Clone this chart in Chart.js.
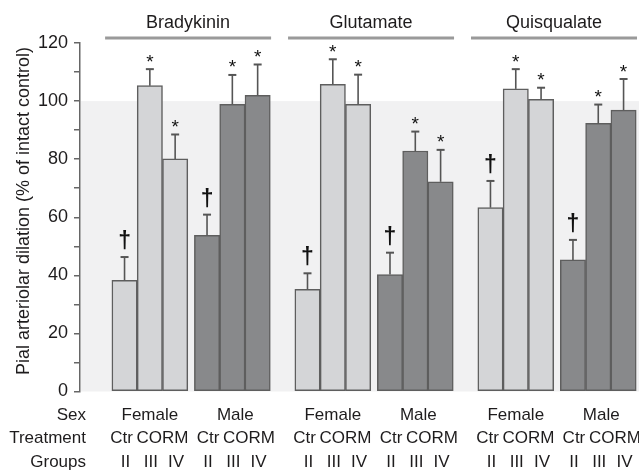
<!DOCTYPE html>
<html><head><meta charset="utf-8">
<script src="https://cdn.jsdelivr.net/npm/chart.js@4/dist/chart.umd.min.js"></script>
<style>html,body{margin:0;padding:0;background:#fff;}#wrap{width:639px;height:471px;}</style>
</head><body><div id="wrap"><canvas id="c" width="639" height="471"></canvas></div>
<script>
// ---- data ----
const stimuli = ['Bradykinin', 'Glutamate', 'Quisqualate'];
const sexLabels = ['Female', 'Male'];
const treatmentLabels = ['Ctr', 'CORM'];
const groupLabels = ['II', 'III', 'IV'];
const rowLabels = ['Sex', 'Treatment', 'Groups'];
const yTickLabels = [0, 20, 40, 60, 80, 100, 120];
// order within each stimulus: Female II, III, IV, Male II, III, IV
const bradykininMean = [38.3, 105.3, 80.1, 53.8, 98.9, 102.0];
const bradykininSE   = [8.0, 5.7, 8.4, 7.1, 10.1, 10.6];
const glutamateMean  = [35.2, 105.8, 98.9, 40.3, 82.8, 72.2];
const glutamateSE    = [5.5, 8.6, 10.2, 7.5, 6.7, 11.0];
const quisqualateMean = [63.3, 104.2, 100.6, 45.3, 92.3, 96.9];
const quisqualateSE   = [9.2, 6.8, 4.0, 6.9, 6.5, 10.7];
const marks = ['†', '*', '*', '†', '*', '*'];
const intactControl = 100;

// ---- layout constants ----
const STIM_STEP = 7.23;   // spacing between stimulus blocks (bar widths)
const SEX_STEP = 3.26;    // spacing between female and male blocks
const FONT = '"Liberation Sans", Arial, Helvetica, sans-serif';
const TEXT = '#1e1c1d';
const LIGHT = '#d4d5d7';
const DARK = '#88898b';

const means = [bradykininMean, glutamateMean, quisqualateMean];
const ses = [bradykininSE, glutamateSE, quisqualateSE];

const points = [], colors = [], errs = [], markList = [];
means.forEach((arr, s) => {
  arr.forEach((v, j) => {
    const k = Math.floor(j / 3), t = j % 3;
    points.push({ x: s * STIM_STEP + k * SEX_STEP + t, y: v });
    colors.push(k === 0 ? LIGHT : DARK);
    errs.push(ses[s][j]);
    markList.push(marks[j]);
  });
});

const deco = {
  id: 'deco',
  beforeDraw(chart) {
    const { ctx, chartArea: a, scales: { y } } = chart;
    ctx.save();
    ctx.fillStyle = '#ffffff';
    ctx.fillRect(0, 0, chart.width, chart.height);
    ctx.fillStyle = '#f1f1f2';
    const yt = y.getPixelForValue(intactControl), yb = y.getPixelForValue(0);
    ctx.fillRect(a.left + 1, yt, a.right - a.left, yb - yt);
    ctx.restore();
  },
  afterDatasetsDraw(chart) {
    const { ctx, scales: { y } } = chart;
    const meta = chart.getDatasetMeta(0);
    const els = meta.data;
    ctx.save();
    // error bars and significance marks
    els.forEach((el, i) => {
      const top = y.getPixelForValue(points[i].y + errs[i]);
      ctx.strokeStyle = '#555';
      ctx.lineWidth = 1.6;
      ctx.beginPath();
      ctx.moveTo(el.x, el.y);
      ctx.lineTo(el.x, top);
      ctx.stroke();
      ctx.lineWidth = 2;
      ctx.beginPath();
      ctx.moveTo(el.x - 4, top);
      ctx.lineTo(el.x + 4, top);
      ctx.stroke();
      ctx.fillStyle = '#111';
      ctx.textAlign = 'center';
      ctx.textBaseline = 'alphabetic';
      if (markList[i] === '†') {
        ctx.font = 'bold 23px ' + FONT;
        ctx.fillText('†', el.x, top - 9);
      } else {
        ctx.font = '19px ' + FONT;
        ctx.fillText('*', el.x, top - 1.5);
      }
    });
    // stimulus titles with lines
    stimuli.forEach((name, s) => {
      const first = els[s * 6], last = els[s * 6 + 5];
      const c = (first.x + last.x) / 2 - 3;
      ctx.strokeStyle = '#9a9a9a';
      ctx.lineWidth = 3;
      ctx.beginPath();
      ctx.moveTo(c - 83, 38);
      ctx.lineTo(c + 83, 38);
      ctx.stroke();
      ctx.fillStyle = TEXT;
      ctx.font = '18px ' + FONT;
      ctx.textAlign = 'center';
      ctx.textBaseline = 'alphabetic';
      ctx.fillText(name, c, 28);
    });
    // bottom labels
    const rowsY = [420, 443, 467];
    ctx.font = '17px ' + FONT;
    ctx.fillStyle = TEXT;
    ctx.textAlign = 'right';
    rowLabels.forEach((r, i) => ctx.fillText(r, 86, rowsY[i]));
    ctx.textAlign = 'center';
    stimuli.forEach((_, s) => {
      sexLabels.forEach((sx, k) => {
        const b = s * 6 + k * 3;
        const e0 = els[b], e1 = els[b + 1], e2 = els[b + 2];
        ctx.fillText(sx, (e0.x + e2.x) / 2 + k * 3, rowsY[0]);
        ctx.fillText(treatmentLabels[0], e0.x - 3 + k * 4, rowsY[1]);
        ctx.fillText(treatmentLabels[1], (e1.x + e2.x) / 2 + k * 4, rowsY[1]);
        [e0, e1, e2].forEach((e, t) => ctx.fillText(groupLabels[t], e.x + 1, rowsY[2]));
      });
    });
    // y title
    ctx.translate(24, 211);
    ctx.rotate(-Math.PI / 2);
    ctx.font = '18px ' + FONT;
    ctx.textBaseline = 'middle';
    ctx.fillText('Pial arteriolar dilation (% of intact control)', 0, 0);
    ctx.restore();
  }
};

new Chart(document.getElementById('c'), {
  type: 'bar',
  data: {
    datasets: [{
      data: points,
      backgroundColor: colors,
      borderColor: '#5e5e5e',
      borderWidth: 1.5,
      borderSkipped: false,
      barPercentage: 1,
      categoryPercentage: 1
    }]
  },
  options: {
    responsive: false,
    animation: false,
    devicePixelRatio: 1,
    layout: { padding: { top: 43, bottom: 79.5, left: 0, right: 0 } },
    plugins: { legend: { display: false }, tooltip: { enabled: false } },
    scales: {
      x: {
        type: 'linear', display: false, offset: false, min: -1.76, max: 20.33,
        grid: { offset: false },
        ticks: { stepSize: 1, includeBounds: false }
      },
      y: {
        min: 0, max: 120,
        afterFit: s => { s.width = 80; },
        ticks: {
          stepSize: 10,
          padding: 6,
          color: TEXT,
          font: { size: 18, family: FONT },
          callback: v => (yTickLabels.includes(v) ? String(v) : '')
        },
        grid: { drawOnChartArea: false, drawTicks: true, tickLength: 6, color: '#666', lineWidth: 1.5 },
        border: { color: '#666', width: 1.5 }
      }
    }
  },
  plugins: [deco]
});
</script></body></html>
